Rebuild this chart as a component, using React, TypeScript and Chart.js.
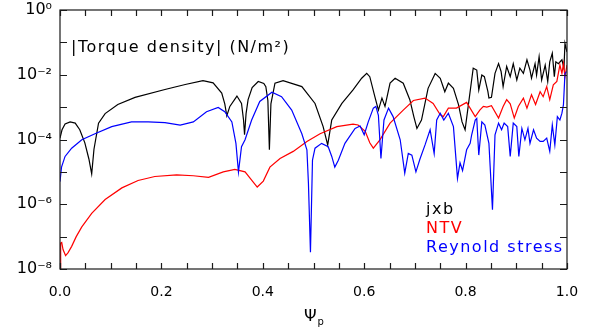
import React, { useEffect, useRef } from "react";
import { Chart, registerables } from "chart.js";
Chart.register(...registerables);

// ---- data ----
const jxbPsi = [0.000,0.004,0.010,0.020,0.030,0.039,0.049,0.057,0.0625,0.067,0.076,0.089,0.114,0.148,0.207,0.247,0.282,0.302,0.319,0.325,0.329,0.335,0.349,0.358,0.362,0.364,0.367,0.371,0.379,0.391,0.402,0.406,0.410,0.413,0.416,0.424,0.440,0.477,0.503,0.519,0.528,0.536,0.556,0.578,0.595,0.605,0.611,0.621,0.628,0.635,0.641,0.651,0.661,0.677,0.690,0.698,0.704,0.713,0.726,0.740,0.750,0.759,0.766,0.776,0.786,0.793,0.799,0.815,0.822,0.826,0.832,0.837,0.844,0.846,0.851,0.858,0.865,0.870,0.874,0.881,0.888,0.894,0.901,0.907,0.914,0.921,0.927,0.930,0.937,0.940,0.945,0.950,0.957,0.962,0.966,0.971,0.975,0.978,0.983,0.990,0.994,0.996,1.000];
const jxbVal = [1.1e-4,2.0e-4,3.0e-4,3.5e-4,3.2e-4,2.0e-4,7.9e-5,2.5e-5,8.7e-6,5.0e-5,3.2e-4,6.3e-4,1.2e-3,2.0e-3,3.5e-3,5.0e-3,6.6e-3,5.6e-3,2.7e-3,1.26e-3,5.4e-4,1.05e-3,2.2e-3,1.3e-3,4.0e-4,1.4e-4,6.3e-4,1.7e-3,4.0e-3,6.2e-3,5.4e-3,4.3e-3,1.6e-3,4.8e-5,1.26e-3,5.5e-3,6.6e-3,4.3e-3,1.3e-3,2.5e-4,6.8e-5,4.0e-4,1.3e-3,3.4e-3,7.8e-3,1.1e-2,8.7e-3,2.1e-3,8.1e-4,1.9e-3,1.05e-3,5.5e-3,7.8e-3,5.5e-3,1.7e-3,5.0e-4,2.2e-4,4.0e-4,3.8e-3,1.1e-2,7.8e-3,3.0e-3,5.5e-3,3.8e-3,1.2e-3,3.5e-4,2.0e-4,1.6e-2,1.4e-2,3.4e-3,9.8e-3,8.7e-3,3.0e-3,1.9e-3,2.0e-3,1.1e-2,2.2e-2,1.26e-2,4.3e-3,1.8e-2,8.7e-3,2.2e-2,6.9e-3,1.6e-2,1.1e-2,2.9e-2,1.4e-2,7.8e-3,2.2e-2,9.8e-3,3.6e-2,6.9e-3,2.0e-2,6.2e-3,2.5e-2,4.6e-2,8.7e-3,2.5e-2,2.2e-2,2.9e-2,1.6e-2,9.3e-2,5.0e-2];

const ntvPsi = [0.000,0.0013,0.0034,0.006,0.011,0.016,0.023,0.032,0.043,0.0625,0.089,0.122,0.154,0.187,0.230,0.263,0.293,0.322,0.345,0.365,0.378,0.389,0.401,0.414,0.434,0.460,0.487,0.513,0.546,0.578,0.588,0.602,0.611,0.618,0.631,0.651,0.677,0.697,0.720,0.736,0.750,0.756,0.766,0.782,0.802,0.819,0.828,0.835,0.842,0.851,0.865,0.874,0.881,0.888,0.896,0.904,0.914,0.921,0.930,0.938,0.947,0.953,0.960,0.966,0.973,0.980,0.986,0.990,0.993,0.996,1.000];
const ntvVal = [1.0e-8,6.3e-8,6.6e-8,4.0e-8,2.6e-8,3.2e-8,5.0e-8,1.0e-7,2.0e-7,5.2e-7,1.4e-6,3.2e-6,5.4e-6,7.2e-6,8.1e-6,7.6e-6,6.8e-6,1.0e-5,1.2e-5,1.0e-5,5.6e-6,3.4e-6,5.2e-6,1.4e-5,2.6e-5,4.3e-5,8.7e-5,1.5e-4,2.5e-4,3.0e-4,2.8e-4,1.8e-4,7.9e-5,5.4e-5,9.8e-5,3.2e-4,8.1e-4,1.6e-3,1.9e-3,1.3e-3,5.8e-4,5.1e-4,9.3e-4,9.3e-4,1.4e-3,5.1e-4,8.1e-4,1.05e-3,1.0e-3,1.1e-3,4.6e-4,1.05e-3,1.7e-3,1.26e-3,4.6e-4,1.05e-3,1.9e-3,9.3e-4,2.4e-3,1.2e-3,3.0e-3,2.1e-3,4.3e-3,1.7e-3,4.9e-3,6.2e-3,2.0e-2,1.1e-2,2.2e-2,8.7e-3,2.0e-2];

const reyPsi = [0.000,0.003,0.010,0.023,0.043,0.069,0.102,0.141,0.174,0.207,0.237,0.263,0.289,0.312,0.325,0.339,0.347,0.352,0.358,0.365,0.378,0.394,0.418,0.437,0.457,0.477,0.487,0.490,0.494,0.498,0.503,0.516,0.529,0.536,0.542,0.549,0.562,0.582,0.592,0.600,0.608,0.618,0.623,0.628,0.633,0.639,0.648,0.657,0.671,0.680,0.687,0.694,0.702,0.710,0.720,0.730,0.738,0.743,0.750,0.757,0.766,0.776,0.784,0.789,0.794,0.802,0.809,0.812,0.819,0.822,0.826,0.832,0.838,0.846,0.853,0.858,0.865,0.871,0.876,0.883,0.888,0.894,0.901,0.905,0.911,0.917,0.923,0.927,0.934,0.940,0.947,0.953,0.960,0.966,0.971,0.976,0.981,0.986,0.990,0.993,0.996,0.999];
const reyVal = [5.0e-6,1.4e-5,3.0e-5,5.4e-5,9.8e-5,1.5e-4,2.5e-4,3.5e-4,3.5e-4,3.3e-4,2.8e-4,3.5e-4,7.2e-4,9.8e-4,7.2e-4,3.5e-4,7.6e-5,1.0e-5,6.0e-5,9.8e-5,4.0e-4,1.5e-3,2.9e-3,2.1e-3,8.1e-4,1.5e-4,4.8e-5,4.5e-6,3.3e-8,2.3e-5,5.4e-5,7.6e-5,6.0e-5,3.0e-5,1.4e-5,2.3e-5,7.6e-5,2.2e-4,2.6e-4,1.4e-4,3.5e-4,9.3e-4,1.05e-3,5.6e-4,2.6e-5,4.0e-4,9.3e-4,5.1e-4,9.8e-5,9.1e-6,3.7e-5,3.3e-5,1.0e-5,2.5e-5,6.8e-5,2.0e-4,3.7e-5,4.0e-4,6.5e-4,4.0e-4,6.5e-4,2.5e-4,6.3e-6,1.9e-5,1.1e-5,4.8e-5,7.6e-5,1.4e-4,4.0e-4,4.5e-4,3.3e-5,3.5e-4,2.8e-4,7.6e-5,6.8e-7,1.4e-4,3.2e-4,2.0e-4,3.2e-4,2.5e-4,3.0e-5,3.2e-4,2.5e-4,3.0e-5,2.2e-4,9.8e-5,2.2e-4,7.6e-5,2.0e-4,1.1e-4,8.7e-5,8.7e-5,1.1e-4,4.3e-5,2.8e-4,6.8e-5,5.1e-4,4.0e-4,6.5e-4,1.2e-3,1.1e-2,1.26e-2];

const seriesNames = ["jxb", "NTV", "Reynold stress"];
const seriesColors = ["#000000", "#ff0000", "#0000ff"];
const xTickLabels = ["0.0", "0.2", "0.4", "0.6", "0.8", "1.0"];
const xTickMarks = [0,0.05,0.1,0.15,0.2,0.25,0.3,0.35,0.4,0.45,0.5,0.55,0.6,0.65,0.7,0.75,0.8,0.85,0.9,0.95,1.0];
const yDecades = [0, -1, -2, -3, -4, -5, -6, -7, -8];
const yTickLabels: Record<string, string> = { "0": "10⁰", "-2": "10⁻²", "-4": "10⁻⁴", "-6": "10⁻⁶", "-8": "10⁻⁸" };
const annotation = "|Torque density| (N/m²)";
const xTitleMain = "Ψ";
const xTitleSub = "p";

const FONT = "'DejaVu Sans', 'Liberation Sans', sans-serif";

function pts(xs: number[], ys: number[]) {
  const n = Math.min(xs.length, ys.length);
  const out: { x: number; y: number }[] = [];
  for (let i = 0; i < n; i++) out.push({ x: xs[i], y: ys[i] });
  return out;
}

const boxPlugin = {
  id: "boxPlugin",
  afterDraw(chart: any) {
    const { ctx, chartArea: a, scales } = chart;
    const xs = scales.x, ys = scales.y;
    ctx.save();
    ctx.strokeStyle = "#1a1a1a";
    ctx.lineWidth = 1.2;
    ctx.strokeRect(a.left, a.top, a.right - a.left, a.bottom - a.top);
    ctx.beginPath();
    for (const v of xTickMarks) {
      const px = Math.round(xs.getPixelForValue(v)) + 0.5;
      ctx.moveTo(px, a.bottom); ctx.lineTo(px, a.bottom - 6);
      ctx.moveTo(px, a.top); ctx.lineTo(px, a.top + 6);
    }
    for (const e of yDecades) {
      const py = Math.round(ys.getPixelForValue(Math.pow(10, e))) + 0.5;
      ctx.moveTo(a.left, py); ctx.lineTo(a.left + 7, py);
      ctx.moveTo(a.right, py); ctx.lineTo(a.right - 7, py);
    }
    ctx.stroke();

    // annotation
    ctx.fillStyle = "#000";
    ctx.textBaseline = "alphabetic";
    ctx.textAlign = "left";
    (ctx as any).letterSpacing = "1.5px";
    ctx.font = `16px ${FONT}`;
    ctx.fillText(annotation, a.left + 11, 52);

    // legend as coloured text
    const lx = 426;
    const ly = [214, 233, 252];
    for (let i = 0; i < seriesNames.length; i++) {
      ctx.fillStyle = seriesColors[i];
      ctx.fillText(seriesNames[i], lx, ly[i]);
    }

    // x-axis title
    (ctx as any).letterSpacing = "0px";
    ctx.fillStyle = "#000";
    ctx.font = `16px ${FONT}`;
    const cx = (a.left + a.right) / 2;
    ctx.textAlign = "right";
    ctx.fillText(xTitleMain, cx + 3, 321);
    ctx.textAlign = "left";
    ctx.font = `10px ${FONT}`;
    ctx.fillText(xTitleSub, cx + 4, 325);
    ctx.restore();
  },
};

export default function App() {
  const ref = useRef<HTMLCanvasElement | null>(null);
  useEffect(() => {
    if (!ref.current) return;
    const datasets = [
      { label: seriesNames[0], data: pts(jxbPsi, jxbVal), borderColor: seriesColors[0], order: 2 },
      { label: seriesNames[1], data: pts(ntvPsi, ntvVal), borderColor: seriesColors[1], order: 1 },
      { label: seriesNames[2], data: pts(reyPsi, reyVal), borderColor: seriesColors[2], order: 0 },
    ].map((d) => ({ ...d, borderWidth: 1.2, pointRadius: 0, tension: 0, fill: false }));

    const chart = new Chart(ref.current, {
      type: "line",
      data: { datasets },
      options: {
        animation: false,
        responsive: false,
        devicePixelRatio: 1,
        layout: { padding: { top: 10, right: 30, left: 0, bottom: 0 } },
        plugins: { legend: { display: false }, tooltip: { enabled: false } },
        scales: {
          x: {
            type: "linear",
            min: 0,
            max: 1,
            grid: { display: false, drawTicks: false },
            border: { display: false },
            afterFit: (s: any) => { s.height = 58; s.paddingLeft = 0; s.paddingRight = 0; },
            afterBuildTicks: (s: any) => {
              s.ticks = xTickLabels.map((_, i) => ({ value: i * 0.2 }));
            },
            ticks: {
              autoSkip: false,
              maxRotation: 0,
              padding: 15,
              color: "#000",
              font: { family: FONT, size: 14 },
              callback: (_v: any, i: number) => xTickLabels[i],
            },
          },
          y: {
            type: "logarithmic",
            min: 1e-8,
            max: 1,
            grid: { display: false, drawTicks: false },
            border: { display: false },
            afterFit: (s: any) => { s.width = 60; s.paddingTop = 0; s.paddingBottom = 0; },
            afterBuildTicks: (s: any) => {
              s.ticks = yDecades.map((e) => ({ value: Math.pow(10, e) }));
            },
            ticks: {
              autoSkip: false,
              padding: 8,
              color: "#000",
              font: { family: FONT, size: 16 },
              callback: (v: any) => {
                const e = Math.round(Math.log10(Number(v)));
                return yTickLabels[String(e)] ?? "";
              },
            },
          },
        },
      },
      plugins: [boxPlugin],
    } as any);
    return () => chart.destroy();
  }, []);

  return (
    <div style={{ position: "absolute", left: 0, top: 0, width: 597, height: 327, background: "#fff" }}>
      <canvas ref={ref} width={597} height={327} style={{ display: "block" }} />
    </div>
  );
}
